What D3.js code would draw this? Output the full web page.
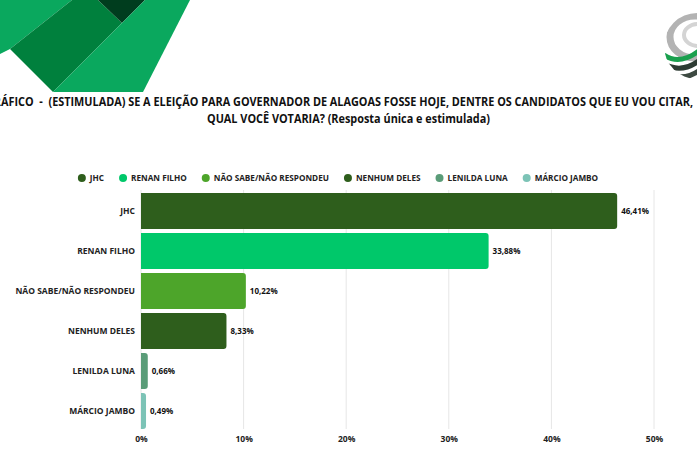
<!DOCTYPE html>
<html>
<head>
<meta charset="utf-8">
<script src="https://cdn.jsdelivr.net/npm/d3@7"></script>
<style>
html,body{margin:0;padding:0;background:#fff;}
svg{display:block;}
text{font-family:"Open Sans","Noto Sans",sans-serif;font-weight:700;}
.pre{white-space:pre;}
</style>
</head>
<body>
<svg id="chart" width="697" height="465"></svg>
<script>
const categories = ["JHC","RENAN FILHO","NÃO SABE/NÃO RESPONDEU","NENHUM DELES","LENILDA LUNA","MÁRCIO JAMBO"];
const values = [46.41, 33.88, 10.22, 8.33, 0.66, 0.49];
const colors = ["#2e5e1c","#00c86a","#4da52a","#2e5e1c","#5a9c78","#7cc3b6"];
const tickValues = [0,10,20,30,40,50];
const titleLines = ["GRÁFICO  -  (ESTIMULADA) SE A ELEIÇÃO PARA GOVERNADOR DE ALAGOAS FOSSE HOJE, DENTRE OS CANDIDATOS QUE EU VOU CITAR,",
                    "QUAL VOCÊ VOTARIA? (Resposta única e estimulada)"];

const svg = d3.select("#chart");

// decorative shapes top-left
const deco = [
  {c:"#0aa85e", p:[[0,0],[72,0],[10,49],[0,54]]},
  {c:"#00803d", p:[[72,0],[98,0],[122,23],[53,92],[10,49]]},
  {c:"#003d1e", p:[[98,0],[145,0],[122,23]]},
  {c:"#0aa85e", p:[[145,0],[190,0],[143,92],[53,92],[122,23]]}
];
svg.append("g").selectAll("polygon").data(deco).join("polygon")
  .attr("points", d => d.p.map(q => q.join(",")).join(" "))
  .attr("fill", d => d.c);

// logo top-right
const defs = svg.append("defs");
defs.append("clipPath").attr("id","logoclip").append("circle").attr("cx",697).attr("cy",46).attr("r",33);
const logo = svg.append("g").attr("clip-path","url(#logoclip)");
logo.append("circle").attr("cx",697).attr("cy",46).attr("r",33).attr("fill","#fff");
logo.append("ellipse").attr("cx",695).attr("cy",37).attr("rx",25).attr("ry",21).attr("fill","none").attr("stroke","#b3b3b3").attr("stroke-width",7);
logo.append("ellipse").attr("cx",698).attr("cy",35).attr("rx",14).attr("ry",11).attr("fill","none").attr("stroke","#d4d4d4").attr("stroke-width",4);
logo.append("path").attr("d","M664,55 Q680,66 700,50").attr("fill","none").attr("stroke","#1aa04e").attr("stroke-width",5);
logo.append("path").attr("d","M664,64 Q682,74 700,60").attr("fill","none").attr("stroke","#2d3b33").attr("stroke-width",5);
logo.append("path").attr("d","M666,73 Q684,82 700,70").attr("fill","none").attr("stroke","#3d4a42").attr("stroke-width",5);

// title
svg.append("text").attr("class","pre").attr("x",-14).attr("y",105.5)
  .attr("font-size",12).attr("fill","#111")
  .attr("textLength",707).attr("lengthAdjust","spacingAndGlyphs")
  .text(titleLines[0]);
svg.append("text").attr("x",207).attr("y",122.5)
  .attr("font-size",12).attr("fill","#111")
  .attr("textLength",283).attr("lengthAdjust","spacingAndGlyphs")
  .text(titleLines[1]);

// scales
const x = d3.scaleLinear().domain([0,50]).range([141,654]);
const y = d3.scaleBand().domain(categories).range([191,431]).paddingInner(0.1).paddingOuter(0.05);

// gridlines
svg.append("g").selectAll("line").data(tickValues).join("line")
  .attr("x1", d => x(d)).attr("x2", d => x(d))
  .attr("y1", 190).attr("y2", 429)
  .attr("stroke","#e6e6e6").attr("stroke-width",1);

// bars with rounded right corners
function barPath(x0, y0, w, h, r){
  r = Math.min(r, w, h/2);
  return `M${x0},${y0} H${x0+w-r} Q${x0+w},${y0} ${x0+w},${y0+r} V${y0+h-r} Q${x0+w},${y0+h} ${x0+w-r},${y0+h} H${x0} Z`;
}
const data = categories.map((c,i)=>({c, v:values[i], col:colors[i]}));
svg.append("g").selectAll("path").data(data).join("path")
  .attr("d", d => barPath(x(0), y(d.c), x(d.v)-x(0), y.bandwidth(), 3))
  .attr("fill", d => d.col);

// value labels
svg.append("g").selectAll("text").data(data).join("text")
  .attr("x", d => x(d.v)+4).attr("y", d => y(d.c)+y.bandwidth()/2)
  .attr("dy","0.35em").attr("font-size",8).attr("fill","#111")
  .text(d => d.v.toFixed(2).replace(".",",")+"%");

// category axis
const yAxis = svg.append("g").attr("transform","translate(141,0)")
  .call(d3.axisLeft(y).tickSize(0).tickPadding(6));
yAxis.select(".domain").remove();
yAxis.selectAll("text").attr("font-size",8.5).attr("fill","#222")
  .style("font-family",'"Open Sans",sans-serif').style("font-weight",700);

// x axis
const xAxis = svg.append("g").attr("transform","translate(0,431)")
  .call(d3.axisBottom(x).tickValues(tickValues).tickFormat(d => d+"%").tickSize(0).tickPadding(5));
xAxis.select(".domain").remove();
xAxis.selectAll("text").attr("font-size",8.5).attr("fill","#222")
  .style("font-family",'"Open Sans",sans-serif').style("font-weight",700);

// legend
const legend = svg.append("g");
const items = legend.selectAll("g").data(data).join("g");
items.append("circle").attr("r",4).attr("cy",178).attr("fill", d => d.col);
items.append("text").attr("x",8).attr("y",178).attr("dy","0.35em")
  .attr("font-size",8.2).attr("fill","#222").text(d => d.c);
let cx = 0;
const pos = [];
const gap = 19;
items.each(function(d){
  const w = d3.select(this).select("text").node().getComputedTextLength();
  pos.push(cx);
  cx += 8 + w + gap;
});
const total = cx - gap + 4;
const start = 338 - total/2 + 4;
items.attr("transform", (d,i) => `translate(${start+pos[i]},0)`);
</script>
</body>
</html>
